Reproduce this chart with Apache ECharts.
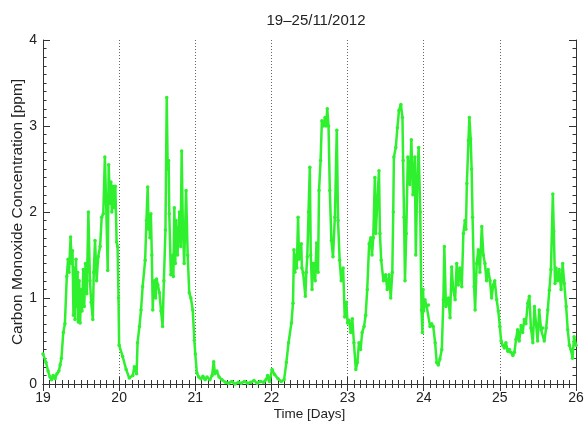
<!DOCTYPE html>
<html>
<head>
<meta charset="utf-8">
<script src="https://cdn.jsdelivr.net/npm/echarts@6/dist/echarts.min.js"></script>
<style>html,body{margin:0;padding:0;background:#fff}#c{width:584px;height:425px}</style>
</head>
<body>
<div id="c"></div>
<script>
// [hour of day, CO ppm] readings, per day of November 2012
var day19 = [[0,0.35],[0.95,0.25],[1.6,0.15],[2.2,0.08],[2.7,0.05],[3.2,0.1],[3.8,0.06],[4.4,0.12],[5.0,0.15],[5.4,0.22],[5.8,0.3],[6.4,0.6],[6.9,0.7],[7.5,1.25],[7.9,1.45],[8.2,1.3],[8.7,1.71],[9.0,1.4],[9.3,1.55],[9.6,0.8],[9.9,1.35],[10.1,0.75],[10.4,1.45],[10.6,0.9],[10.9,1.3],[11.1,0.72],[11.4,1.2],[11.7,0.71],[12.0,1.1],[12.3,0.85],[12.7,1.33],[13.0,0.9],[13.4,1.4],[13.8,1.05],[14.3,2.0],[14.8,1.2],[15.2,0.95],[15.7,0.75],[16.0,1.3],[16.4,1.67],[16.9,1.2],[17.4,1.48],[18.0,1.6],[18.5,1.94],[19.0,1.98],[19.5,2.64],[19.9,2.1],[20.4,1.32],[20.7,2.55],[21.1,2.1],[21.4,2.35],[21.7,2.0],[22.0,2.3],[22.4,2.05],[22.8,2.3],[23.2,1.65],[23.5,1.6],[23.8,1.0]];
var day20 = [[0,0.45],[1.1,0.32],[2.2,0.17],[3.2,0.07],[4.3,0.1],[4.8,0.2],[5.5,0.12],[5.8,0.48],[6.4,0.67],[6.9,0.86],[7.4,1.13],[8.2,1.44],[8.6,1.9],[9.0,2.29],[9.3,1.8],[9.5,1.95],[9.7,1.7],[10.0,1.98],[10.3,1.5],[10.6,0.86],[10.8,1.1],[11.1,1.2],[11.5,1.0],[11.8,1.22],[12.2,1.15],[12.7,1.06],[13.2,0.85],[13.7,0.67],[14.1,1.2],[14.6,1.79],[15.0,3.33],[15.3,2.5],[15.6,2.6],[15.8,1.98],[16.3,1.27],[16.9,1.5],[17.1,1.25],[17.4,2.05],[17.7,1.4],[17.9,1.9],[18.4,1.5],[19.0,2.0],[19.4,1.6],[19.7,2.71],[20.1,1.8],[20.5,1.4],[21.1,2.25],[21.6,1.5],[22.1,1.06],[22.6,1.0],[23.2,0.86],[23.7,0.51]];
var day21 = [[0,0.35],[0.5,0.13],[1.1,0.08],[1.8,0.06],[2.4,0.09],[3.1,0.05],[3.7,0.08],[4.6,0.05],[5.3,0.1],[5.8,0.26],[6.2,0.12],[6.8,0.15],[7.5,0.08],[8.4,0.05],[9.5,0.02],[10.5,0.01],[11.5,0.03],[12.5,0.0],[13.5,0.02],[14.5,0.01],[15.5,0.03],[16.5,0.01],[17.5,0.02],[18.5,0.04],[19.5,0.01],[20.5,0.03],[21.5,0.02],[22.3,0.05],[22.8,0.1],[23.4,0.03]];
var day22 = [[0.2,0.17],[1.0,0.11],[2.1,0.06],[3.1,0.03],[4.0,0.05],[4.7,0.25],[5.4,0.48],[6.3,0.71],[6.8,0.94],[7.1,1.56],[7.4,1.3],[7.8,1.5],[8.0,1.35],[8.4,1.94],[8.7,1.45],[8.9,1.56],[9.4,1.63],[9.6,1.35],[10.0,1.29],[10.7,1.02],[11.0,1.3],[11.3,1.48],[11.7,2.0],[12.1,2.52],[12.4,1.5],[12.8,1.1],[13.1,1.4],[13.4,1.4],[13.8,1.2],[14.2,1.64],[14.7,1.3],[15.0,2.25],[15.5,2.6],[15.9,3.06],[16.4,3.0],[16.9,3.1],[17.2,3.0],[17.6,3.2],[18.0,3.0],[18.4,2.25],[18.9,1.67],[19.4,1.48],[20.0,1.94],[20.6,2.95],[21.0,1.9],[21.5,1.44],[22.0,1.2],[22.6,1.35],[23.1,0.78],[23.6,0.95]];
var day23 = [[0,0.71],[0.45,0.74],[1.0,0.6],[1.5,0.76],[2.0,0.48],[2.6,0.17],[3.1,0.25],[3.6,0.48],[4.1,0.4],[4.6,0.6],[5.2,0.67],[5.7,0.8],[6.2,1.1],[6.8,1.63],[7.3,1.7],[7.7,1.5],[8.1,1.7],[8.6,2.4],[8.9,1.75],[9.4,2.13],[9.9,2.48],[10.2,1.75],[10.6,1.44],[11.3,1.2],[12.0,1.27],[12.5,1.1],[13.1,1.27],[13.6,1.0],[14.1,1.3],[14.4,2.0],[14.6,2.64],[15.2,2.75],[15.7,2.98],[16.2,3.18],[16.8,3.25],[17.3,3.1],[17.5,2.6],[17.8,1.94],[18.1,1.2],[18.5,1.75],[19.0,2.64],[19.6,2.32],[20.1,2.84],[20.6,2.2],[21.2,2.64],[21.5,1.5],[22.0,2.4],[22.4,2.75],[22.9,2.0],[23.3,0.86],[23.6,0.6],[23.8,1.1]];
var day24 = [[0,0.85],[0.4,0.98],[0.95,0.9],[1.5,0.92],[2.0,0.67],[2.5,0.7],[3.0,0.67],[3.6,0.48],[4.1,0.25],[4.6,0.22],[5.1,0.29],[5.7,0.4],[6.2,0.98],[6.5,1.6],[7.0,0.9],[7.8,1.0],[8.3,0.77],[8.8,1.36],[9.3,1.1],[9.9,0.98],[10.4,1.4],[10.9,1.15],[11.4,1.35],[12.0,1.13],[12.5,1.75],[13.0,1.9],[13.3,1.8],[13.6,2.33],[14.1,2.83],[14.4,3.1],[14.8,2.85],[15.1,2.5],[15.4,1.94],[15.9,1.13],[16.2,0.86],[16.7,1.4],[17.2,1.56],[17.7,1.3],[18.3,1.83],[18.8,1.5],[19.3,1.4],[19.8,1.2],[20.3,1.33],[20.9,1.2],[21.4,1.0],[21.9,1.15],[22.4,1.2],[23.0,0.98],[23.5,0.85]];
var day25 = [[0,0.67],[0.4,0.5],[0.9,0.45],[1.4,0.42],[1.9,0.48],[2.5,0.38],[3.0,0.4],[3.5,0.37],[4.1,0.33],[4.6,0.37],[5.1,0.52],[5.6,0.63],[6.1,0.5],[6.7,0.68],[7.2,0.6],[7.7,0.75],[8.2,0.7],[8.8,0.94],[9.3,1.02],[9.8,0.65],[10.4,0.48],[10.9,0.9],[11.4,0.7],[11.9,0.5],[12.4,0.86],[13.0,0.63],[13.5,0.65],[14.0,0.5],[14.6,0.65],[15.1,0.86],[15.6,1.09],[16.1,1.33],[16.7,2.21],[17.0,1.78],[17.4,1.17],[17.7,1.35],[18.2,1.2],[18.7,1.33],[19.3,1.1],[19.8,1.4],[20.3,1.17],[20.9,0.9],[21.4,0.63],[21.9,0.45],[22.4,0.4],[22.9,0.3],[23.4,0.55],[24.0,0.45]];
var days = [19, 20, 21, 22, 23, 24, 25];
var dayData = [day19, day20, day21, day22, day23, day24, day25];
var xTicks = [19, 20, 21, 22, 23, 24, 25, 26];
var yTicks = [0, 1, 2, 3, 4];

var series = [];
dayData.forEach(function (arr, i) {
  arr.forEach(function (p) { series.push([days[i] + p[0] / 24, p[1]]); });
});

var font = 'Liberation Sans, Arial, Helvetica, sans-serif';
var axisCol = '#333';
function xa(pos, labels) {
  return {
    type: 'value', position: pos, min: xTicks[0], max: xTicks[xTicks.length - 1], interval: 1,
    axisLine: { show: true, lineStyle: { color: axisCol, width: 1 } },
    axisTick: { show: true, inside: true, length: 7, lineStyle: { color: axisCol } },
    minorTick: { show: true, splitNumber: 12, length: 4, lineStyle: { color: axisCol } },
    axisLabel: { show: labels, fontFamily: font, fontSize: 14, color: '#222', margin: 7 },
    splitLine: { show: labels, lineStyle: { type: [1, 2], color: '#666', width: 1 } },
    name: labels ? 'Time [Days]' : '', nameLocation: 'middle', nameGap: 23, nameMoveOverlap: false,
    nameTextStyle: { fontFamily: font, fontSize: 13.5, color: '#222' }
  };
}
function ya(pos, labels) {
  return {
    type: 'value', position: pos, min: yTicks[0], max: yTicks[yTicks.length - 1], interval: 1,
    axisLine: { show: true, lineStyle: { color: axisCol, width: 1 } },
    axisTick: { show: true, inside: true, length: 7, lineStyle: { color: axisCol } },
    minorTick: { show: true, splitNumber: 10, length: 3.5, lineStyle: { color: axisCol } },
    axisLabel: { show: labels, fontFamily: font, fontSize: 14, color: '#222', margin: 6 },
    splitLine: { show: false },
    name: labels ? 'Carbon Monoxide Concentration [ppm]' : '', nameLocation: 'middle', nameGap: 17, nameMoveOverlap: false,
    nameTextStyle: { fontFamily: font, fontSize: 15.5, color: '#222' }
  };
}

var chart = echarts.init(document.getElementById('c'));
chart.setOption({
  animation: false,
  backgroundColor: '#fff',
  title: { text: '19\u201325/11/2012', left: 311, top: 8, textAlign: 'center',
    textStyle: { fontFamily: font, fontSize: 15, fontWeight: 'normal', color: '#222' } },
  grid: { left: 43, right: 8, top: 40, bottom: 41, containLabel: false, outerBoundsMode: 'none' },
  xAxis: [xa('bottom', true), xa('top', false)],
  yAxis: [ya('left', true), ya('right', false)],
  series: [{
    type: 'line', xAxisIndex: 0, yAxisIndex: 0, data: series,
    showSymbol: true, symbol: 'circle', symbolSize: 3.5,
    itemStyle: { color: '#2ef02e' },
    lineStyle: { color: '#2ef02e', width: 2.5 }
  }]
});
</script>
</body>
</html>
